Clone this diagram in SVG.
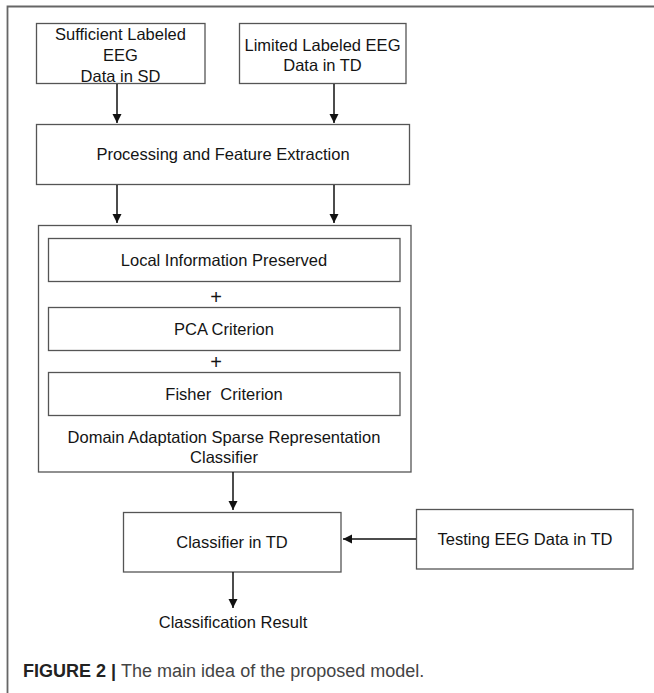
<svg xmlns="http://www.w3.org/2000/svg" width="654" height="693" viewBox="0 0 654 693">
  <style>
    .box { fill: #ffffff; stroke: #555555; stroke-width: 1.3; }
    .lbl { font-family: "Liberation Sans", Arial, sans-serif; font-size: 16.5px; fill: #141414; text-anchor: middle; }
    .plus { font-family: "Liberation Sans", Arial, sans-serif; font-size: 20px; fill: #141414; text-anchor: middle; }
    .edge { stroke: #111111; stroke-width: 1.5; fill: none; marker-end: url(#head); }
    .frame { stroke: #666666; stroke-width: 1.8; fill: none; }
    .cap { font-family: "Liberation Sans", Arial, sans-serif; font-size: 18px; fill: #444444; }
  </style>
  <defs>
    <marker id="head" viewBox="0 0 10 10" refX="10" refY="5" markerUnits="userSpaceOnUse" markerWidth="9" markerHeight="11" orient="auto">
      <path d="M0,0 L10,5 L0,10 Z" fill="#111111"/>
    </marker>
  </defs>
  <rect width="654" height="693" fill="#ffffff"/>

  <!-- page frame: top and left rules -->
  <path class="frame" d="M7.5,693 L7.5,6.5 L654,6.5"/>

  <g id="source-data">
    <rect class="box" x="36.5" y="23.5" width="168.5" height="60"/>
    <text class="lbl" x="120.5" y="40">Sufficient Labeled</text>
    <text class="lbl" x="120.5" y="61">EEG</text>
    <text class="lbl" x="120.5" y="81.5">Data in SD</text>
  </g>

  <g id="target-data">
    <rect class="box" x="239.5" y="23.5" width="166.5" height="60"/>
    <text class="lbl" x="322.5" y="51">Limited Labeled EEG</text>
    <text class="lbl" x="322.5" y="71">Data in TD</text>
  </g>

  <g id="feature-extraction">
    <rect class="box" x="36.5" y="124.5" width="373" height="60"/>
    <text class="lbl" x="223" y="160">Processing and Feature Extraction</text>
  </g>

  <g id="dasrc">
    <rect class="box" x="38.5" y="225.5" width="372.5" height="246.5"/>
    <g id="local-info">
      <rect class="box" x="48.5" y="238.5" width="351.5" height="43"/>
      <text class="lbl" x="224" y="265.5">Local Information Preserved</text>
    </g>
    <text class="plus" x="216" y="304">+</text>
    <g id="pca">
      <rect class="box" x="48.5" y="307.5" width="351.5" height="43"/>
      <text class="lbl" x="224" y="334.5">PCA Criterion</text>
    </g>
    <text class="plus" x="216" y="369">+</text>
    <g id="fisher">
      <rect class="box" x="48.5" y="372.5" width="351.5" height="43"/>
      <text class="lbl" x="224" y="399.5" xml:space="preserve">Fisher  Criterion</text>
    </g>
    <text class="lbl" x="224" y="443">Domain Adaptation Sparse Representation</text>
    <text class="lbl" x="224" y="463">Classifier</text>
  </g>

  <g id="classifier-td">
    <rect class="box" x="123.5" y="512.5" width="217.5" height="59.5"/>
    <text class="lbl" x="232" y="548">Classifier in TD</text>
  </g>

  <g id="testing-data">
    <rect class="box" x="416.5" y="509.5" width="216.5" height="59.5"/>
    <text class="lbl" x="525" y="545">Testing EEG Data in TD</text>
  </g>

  <g id="result">
    <text class="lbl" x="233" y="628">Classification Result</text>
  </g>

  <g id="connectors">
    <line class="edge" x1="117" y1="84" x2="117" y2="123"/>
    <line class="edge" x1="334" y1="84" x2="334" y2="123"/>
    <line class="edge" x1="117" y1="185" x2="117" y2="223"/>
    <line class="edge" x1="334" y1="185" x2="334" y2="223"/>
    <line class="edge" x1="233" y1="472" x2="233" y2="510"/>
    <line class="edge" x1="416" y1="539" x2="343" y2="539"/>
    <line class="edge" x1="233" y1="572" x2="233" y2="608"/>
  </g>

  <text class="cap" x="23" y="677"><tspan font-weight="bold" fill="#222222">FIGURE 2 | </tspan>The main idea of the proposed model.</text>
</svg>
